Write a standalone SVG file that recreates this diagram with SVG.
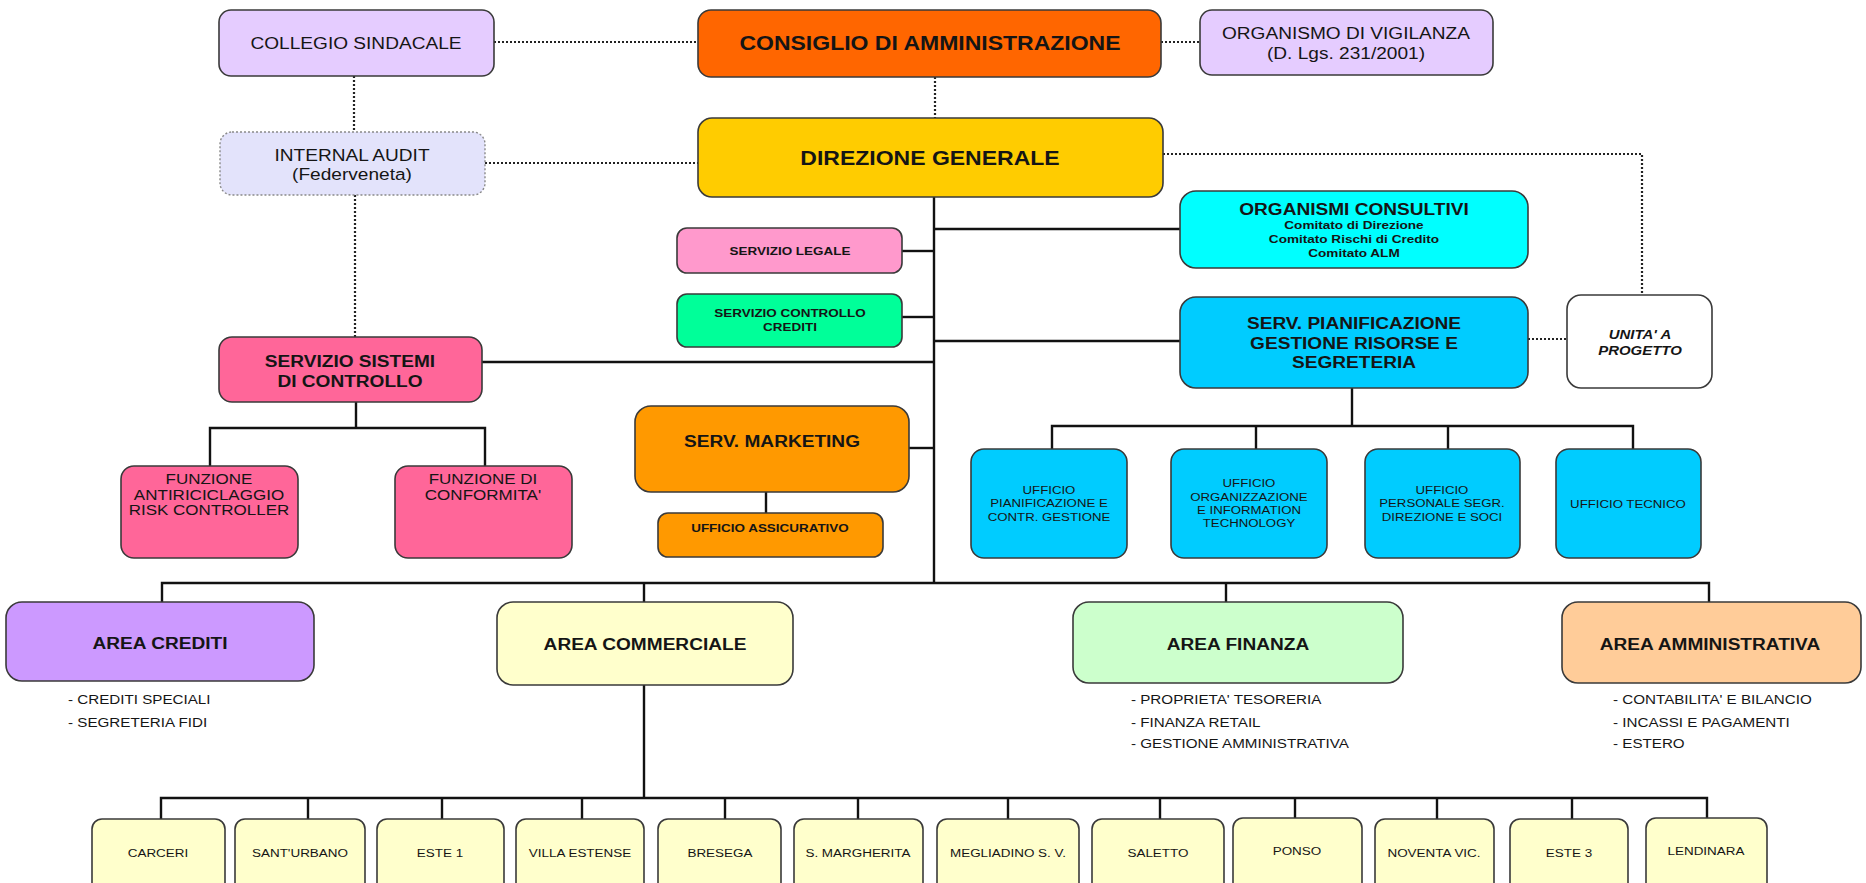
<svg xmlns="http://www.w3.org/2000/svg" width="1866" height="883" viewBox="0 0 1866 883">
  <style>
    .box { stroke: #3a3a3a; stroke-width: 1.6; }
    .dotbox { stroke: #8a8a8a; stroke-width: 1.4; stroke-dasharray: 2 2; }
    .ln { stroke: #111; stroke-width: 2.4; fill: none; }
    .dot { stroke: #222; stroke-width: 2.2; fill: none; stroke-dasharray: 2 2; }
    text { font-family: "Liberation Sans", Arial, sans-serif; fill: #151515; text-anchor: middle; dominant-baseline: central;
           transform-box: fill-box; transform-origin: center; transform: scaleX(1.15); }
    .b { font-weight: bold; }
    .big { font-size: 20px; }
    .reg { font-size: 16.6px; }
    .mid { font-size: 16.6px; }
    .area { font-size: 16.6px; }
    .sm { font-size: 11.7px; }
    .cm { font-size: 11.8px; }
    .un { font-size: 13px; font-style: italic; }
    .uff { font-size: 11.5px; }
    .fz { font-size: 14.8px; }
    .lst { font-size: 13.2px; text-anchor: start; transform-origin: left center; }
    .br { font-size: 11.7px; }
  </style>

  <!-- connectors -->
  <g id="connectors">
    <!-- dotted staff relations -->
    <line class="dot" x1="494" y1="42" x2="698" y2="42"/>
    <line class="dot" x1="1161" y1="42" x2="1200" y2="42"/>
    <line class="dot" x1="935" y1="77" x2="935" y2="118"/>
    <line class="dot" x1="354" y1="76" x2="354" y2="132"/>
    <line class="dot" x1="485" y1="163" x2="698" y2="163"/>
    <line class="dot" x1="355" y1="195" x2="355" y2="337"/>
    <polyline class="dot" points="1163,154 1642,154 1642,295"/>
    <line class="dot" x1="1528" y1="339" x2="1567" y2="339"/>

    <!-- main trunk -->
    <line class="ln" x1="934" y1="197" x2="934" y2="583"/>
    <line class="ln" x1="934" y1="229" x2="1180" y2="229"/>
    <line class="ln" x1="902" y1="251" x2="934" y2="251"/>
    <line class="ln" x1="902" y1="317" x2="934" y2="317"/>
    <line class="ln" x1="934" y1="341" x2="1180" y2="341"/>
    <line class="ln" x1="482" y1="362" x2="934" y2="362"/>
    <line class="ln" x1="909" y1="448" x2="934" y2="448"/>

    <!-- servizio sistemi di controllo -->
    <line class="ln" x1="356" y1="402" x2="356" y2="428"/>
    <polyline class="ln" points="210,466 210,428 485,428 485,466"/>

    <!-- marketing -->
    <line class="ln" x1="766" y1="492" x2="766" y2="513"/>

    <!-- pianificazione offices -->
    <line class="ln" x1="1352" y1="388" x2="1352" y2="426"/>
    <polyline class="ln" points="1052,449 1052,426 1633,426 1633,449"/>
    <line class="ln" x1="1256" y1="426" x2="1256" y2="449"/>
    <line class="ln" x1="1448" y1="426" x2="1448" y2="449"/>

    <!-- areas -->
    <polyline class="ln" points="162,602 162,583 1709,583 1709,602"/>
    <line class="ln" x1="644" y1="583" x2="644" y2="602"/>
    <line class="ln" x1="1226" y1="583" x2="1226" y2="602"/>

    <!-- branches -->
    <line class="ln" x1="644" y1="685" x2="644" y2="798"/>
    <polyline class="ln" points="161,819 161,798 1707,798 1707,819"/>
    <line class="ln" x1="308" y1="798" x2="308" y2="819"/>
    <line class="ln" x1="442" y1="798" x2="442" y2="819"/>
    <line class="ln" x1="582" y1="798" x2="582" y2="819"/>
    <line class="ln" x1="725" y1="798" x2="725" y2="819"/>
    <line class="ln" x1="858" y1="798" x2="858" y2="819"/>
    <line class="ln" x1="1008" y1="798" x2="1008" y2="819"/>
    <line class="ln" x1="1160" y1="798" x2="1160" y2="819"/>
    <line class="ln" x1="1295" y1="798" x2="1295" y2="819"/>
    <line class="ln" x1="1437" y1="798" x2="1437" y2="819"/>
    <line class="ln" x1="1572" y1="798" x2="1572" y2="819"/>
  </g>

  <!-- governance -->
  <g id="collegio-sindacale">
    <rect class="box" x="219" y="10" width="275" height="66" rx="12" fill="#E5CCFF"/>
    <text class="reg" x="356" y="43">COLLEGIO SINDACALE</text>
  </g>
  <g id="consiglio">
    <rect class="box" x="698" y="10" width="463" height="67" rx="13" fill="#FF6600"/>
    <text class="b big" x="930" y="43">CONSIGLIO DI AMMINISTRAZIONE</text>
  </g>
  <g id="organismo-vigilanza">
    <rect class="box" x="1200" y="10" width="293" height="65" rx="12" fill="#E5CCFF"/>
    <text class="reg" x="1346" y="33">ORGANISMO DI VIGILANZA</text>
    <text class="reg" x="1346" y="53">(D. Lgs. 231/2001)</text>
  </g>
  <g id="internal-audit">
    <rect class="dotbox" x="220" y="132" width="265" height="63" rx="12" fill="#E3E3FB"/>
    <text class="reg" x="352" y="155">INTERNAL  AUDIT</text>
    <text class="reg" x="352" y="174">(Federveneta)</text>
  </g>
  <g id="direzione-generale">
    <rect class="box" x="698" y="118" width="465" height="79" rx="14" fill="#FFCC00"/>
    <text class="b big" x="930" y="158">DIREZIONE GENERALE</text>
  </g>

  <!-- staff services -->
  <g id="organismi-consultivi">
    <rect class="box" x="1180" y="191" width="348" height="77" rx="16" fill="#00FFFF"/>
    <text class="b mid" x="1354" y="209">ORGANISMI CONSULTIVI</text>
    <text class="b cm" x="1354" y="225">Comitato di Direzione</text>
    <text class="b cm" x="1354" y="239">Comitato Rischi di Credito</text>
    <text class="b cm" x="1354" y="253">Comitato ALM</text>
  </g>
  <g id="servizio-legale">
    <rect class="box" x="677" y="228" width="225" height="45" rx="10" fill="#FF99CC"/>
    <text class="b sm" x="790" y="251">SERVIZIO LEGALE</text>
  </g>
  <g id="servizio-controllo-crediti">
    <rect class="box" x="677" y="294" width="225" height="53" rx="10" fill="#00FF99"/>
    <text class="b sm" x="790" y="313">SERVIZIO CONTROLLO</text>
    <text class="b sm" x="790" y="327">CREDITI</text>
  </g>
  <g id="servizio-sistemi-controllo">
    <rect class="box" x="219" y="337" width="263" height="65" rx="13" fill="#FF6699"/>
    <text class="b mid" x="350" y="361">SERVIZIO SISTEMI</text>
    <text class="b mid" x="350" y="381">DI CONTROLLO</text>
  </g>
  <g id="serv-pianificazione">
    <rect class="box" x="1180" y="297" width="348" height="91" rx="16" fill="#00CCFF"/>
    <text class="b mid" x="1354" y="323">SERV. PIANIFICAZIONE</text>
    <text class="b mid" x="1354" y="343">GESTIONE RISORSE E</text>
    <text class="b mid" x="1354" y="362">SEGRETERIA</text>
  </g>
  <g id="unita-progetto">
    <rect class="box" x="1567" y="295" width="145" height="93" rx="14" fill="#FFFFFF"/>
    <text class="b un" x="1640" y="334">UNITA' A</text>
    <text class="b un" x="1640" y="350">PROGETTO</text>
  </g>
  <g id="funzione-antiriciclaggio">
    <rect class="box" x="121" y="466" width="177" height="92" rx="13" fill="#FF6699"/>
    <text class="fz" x="209" y="479">FUNZIONE</text>
    <text class="fz" x="209" y="495">ANTIRICICLAGGIO</text>
    <text class="fz" x="209" y="510">RISK CONTROLLER</text>
  </g>
  <g id="funzione-conformita">
    <rect class="box" x="395" y="466" width="177" height="92" rx="13" fill="#FF6699"/>
    <text class="fz" x="483" y="479">FUNZIONE DI</text>
    <text class="fz" x="483" y="495">CONFORMITA'</text>
  </g>
  <g id="serv-marketing">
    <rect class="box" x="635" y="406" width="274" height="86" rx="16" fill="#FF9900"/>
    <text class="b mid" x="772" y="441">SERV. MARKETING</text>
  </g>
  <g id="ufficio-assicurativo">
    <rect class="box" x="658" y="513" width="225" height="44" rx="10" fill="#FF9900"/>
    <text class="b sm" x="770" y="528">UFFICIO ASSICURATIVO</text>
  </g>

  <!-- offices -->
  <g id="ufficio-pianificazione">
    <rect class="box" x="971" y="449" width="156" height="109" rx="13" fill="#00CCFF"/>
    <text class="uff" x="1049" y="490">UFFICIO</text>
    <text class="uff" x="1049" y="503">PIANIFICAZIONE E</text>
    <text class="uff" x="1049" y="517">CONTR. GESTIONE</text>
  </g>
  <g id="ufficio-organizzazione">
    <rect class="box" x="1171" y="449" width="156" height="109" rx="13" fill="#00CCFF"/>
    <text class="uff" x="1249" y="483">UFFICIO</text>
    <text class="uff" x="1249" y="497">ORGANIZZAZIONE</text>
    <text class="uff" x="1249" y="510">E INFORMATION</text>
    <text class="uff" x="1249" y="523">TECHNOLOGY</text>
  </g>
  <g id="ufficio-personale">
    <rect class="box" x="1365" y="449" width="155" height="109" rx="13" fill="#00CCFF"/>
    <text class="uff" x="1442" y="490">UFFICIO</text>
    <text class="uff" x="1442" y="503">PERSONALE SEGR.</text>
    <text class="uff" x="1442" y="517">DIREZIONE  E SOCI</text>
  </g>
  <g id="ufficio-tecnico">
    <rect class="box" x="1556" y="449" width="145" height="109" rx="13" fill="#00CCFF"/>
    <text class="uff" x="1628" y="504">UFFICIO TECNICO</text>
  </g>

  <!-- areas -->
  <g id="area-crediti">
    <rect class="box" x="6" y="602" width="308" height="79" rx="16" fill="#CC99FF"/>
    <text class="b area" x="160" y="643">AREA CREDITI</text>
    <text class="lst" x="68" y="699">- CREDITI SPECIALI</text>
    <text class="lst" x="68" y="722">- SEGRETERIA FIDI</text>
  </g>
  <g id="area-commerciale">
    <rect class="box" x="497" y="602" width="296" height="83" rx="16" fill="#FFFFCC"/>
    <text class="b area" x="645" y="644">AREA COMMERCIALE</text>
  </g>
  <g id="area-finanza">
    <rect class="box" x="1073" y="602" width="330" height="81" rx="16" fill="#CCFFCC"/>
    <text class="b area" x="1238" y="644">AREA FINANZA</text>
    <text class="lst" x="1131" y="699">- PROPRIETA' TESORERIA</text>
    <text class="lst" x="1131" y="722">- FINANZA RETAIL</text>
    <text class="lst" x="1131" y="743">- GESTIONE AMMINISTRATIVA</text>
  </g>
  <g id="area-amministrativa">
    <rect class="box" x="1562" y="602" width="299" height="81" rx="16" fill="#FFCC99"/>
    <text class="b area" x="1710" y="644">AREA AMMINISTRATIVA</text>
    <text class="lst" x="1613" y="699">- CONTABILITA' E BILANCIO</text>
    <text class="lst" x="1613" y="722">- INCASSI E PAGAMENTI</text>
    <text class="lst" x="1613" y="743">- ESTERO</text>
  </g>

  <!-- branches -->
  <g id="filiale-carceri">
    <rect class="box" x="92" y="819" width="133" height="90" rx="10" fill="#FFFFCC"/>
    <text class="br" x="158" y="853">CARCERI</text>
  </g>
  <g id="filiale-santurbano">
    <rect class="box" x="235" y="819" width="130" height="90" rx="10" fill="#FFFFCC"/>
    <text class="br" x="300" y="853">SANT'URBANO</text>
  </g>
  <g id="filiale-este1">
    <rect class="box" x="377" y="819" width="127" height="90" rx="10" fill="#FFFFCC"/>
    <text class="br" x="440" y="853">ESTE 1</text>
  </g>
  <g id="filiale-villa-estense">
    <rect class="box" x="516" y="819" width="128" height="90" rx="10" fill="#FFFFCC"/>
    <text class="br" x="580" y="853">VILLA ESTENSE</text>
  </g>
  <g id="filiale-bresega">
    <rect class="box" x="658" y="819" width="123" height="90" rx="10" fill="#FFFFCC"/>
    <text class="br" x="720" y="853">BRESEGA</text>
  </g>
  <g id="filiale-s-margherita">
    <rect class="box" x="794" y="819" width="129" height="90" rx="10" fill="#FFFFCC"/>
    <text class="br" x="858" y="853">S. MARGHERITA</text>
  </g>
  <g id="filiale-megliadino">
    <rect class="box" x="937" y="819" width="142" height="90" rx="10" fill="#FFFFCC"/>
    <text class="br" x="1008" y="853">MEGLIADINO S. V.</text>
  </g>
  <g id="filiale-saletto">
    <rect class="box" x="1092" y="819" width="132" height="90" rx="10" fill="#FFFFCC"/>
    <text class="br" x="1158" y="853">SALETTO</text>
  </g>
  <g id="filiale-ponso">
    <rect class="box" x="1233" y="818" width="129" height="90" rx="10" fill="#FFFFCC"/>
    <text class="br" x="1297" y="851">PONSO</text>
  </g>
  <g id="filiale-noventa">
    <rect class="box" x="1375" y="819" width="119" height="90" rx="10" fill="#FFFFCC"/>
    <text class="br" x="1434" y="853">NOVENTA VIC.</text>
  </g>
  <g id="filiale-este3">
    <rect class="box" x="1510" y="819" width="118" height="90" rx="10" fill="#FFFFCC"/>
    <text class="br" x="1569" y="853">ESTE 3</text>
  </g>
  <g id="filiale-lendinara">
    <rect class="box" x="1646" y="818" width="121" height="90" rx="10" fill="#FFFFCC"/>
    <text class="br" x="1706" y="851">LENDINARA</text>
  </g>
</svg>
